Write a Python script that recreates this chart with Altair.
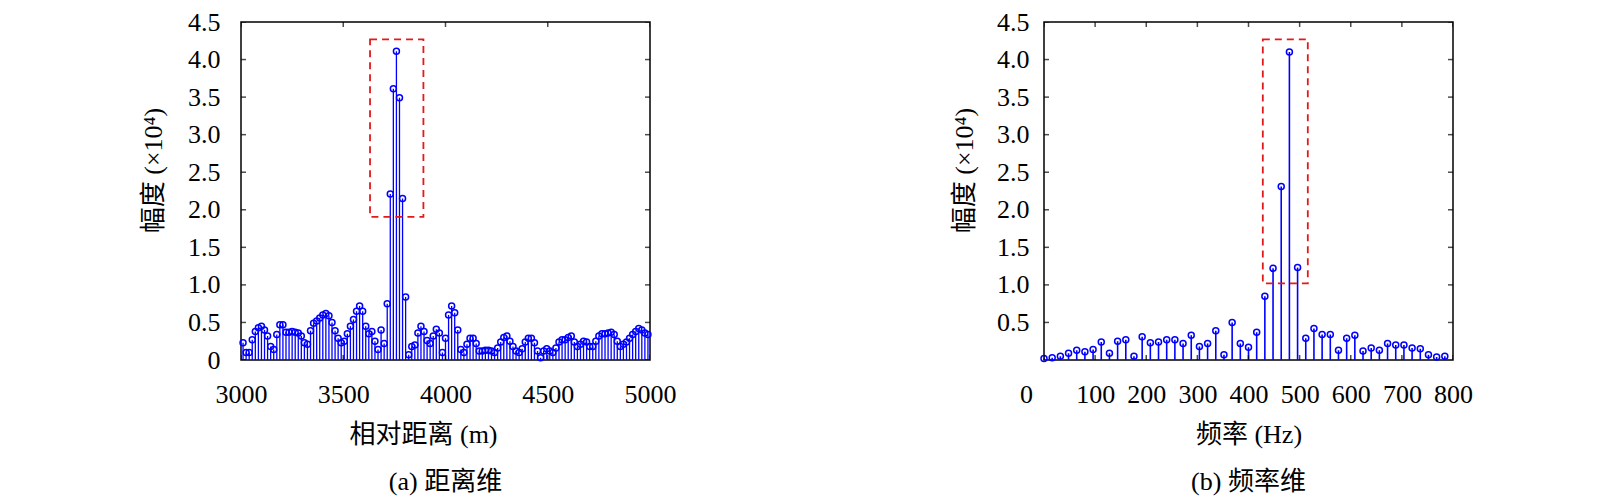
import altair as alt
import pandas as pd

# ---------------- data ----------------
# (a) range dimension: sample grid 3010..4990 m, step 15 m
range_m = list(range(3010, 5000, 15))
range_amp = [
    0.23, 0.10, 0.10, 0.27, 0.38, 0.43, 0.45, 0.40, 0.32, 0.18,
    0.14, 0.34, 0.47, 0.47, 0.37, 0.37, 0.38, 0.37, 0.36, 0.32,
    0.23, 0.21, 0.39, 0.49, 0.52, 0.56, 0.60, 0.62, 0.59, 0.50,
    0.39, 0.29, 0.23, 0.25, 0.35, 0.45, 0.54, 0.65, 0.72, 0.65,
    0.45, 0.35, 0.38, 0.25, 0.14, 0.40, 0.22, 0.75, 2.21, 3.61,
    4.11, 3.49, 2.15, 0.84, 0.07, 0.18, 0.20, 0.36, 0.45, 0.38,
    0.26, 0.22, 0.32, 0.41, 0.36, 0.10, 0.29, 0.60, 0.72, 0.63,
    0.40, 0.14, 0.10, 0.21, 0.29, 0.29, 0.22, 0.12, 0.12, 0.13,
    0.13, 0.12, 0.10, 0.16, 0.24, 0.30, 0.32, 0.25, 0.18, 0.12,
    0.10, 0.15, 0.24, 0.29, 0.29, 0.23, 0.12, 0.03, 0.12, 0.15,
    0.12, 0.10, 0.16, 0.24, 0.27, 0.27, 0.30, 0.32, 0.24, 0.18,
    0.21, 0.25, 0.24, 0.18, 0.18, 0.25, 0.32, 0.35, 0.35, 0.36,
    0.37, 0.34, 0.25, 0.18, 0.21, 0.24, 0.29, 0.34, 0.38, 0.42,
    0.40, 0.36, 0.34,
]

# (b) frequency dimension: 0..784 Hz, step 16 Hz
freq_hz = [0, 16, 32, 48, 64, 80, 96, 112, 128, 144,
           160, 176, 192, 208, 224, 240, 256, 272, 288, 304,
           320, 336, 352, 368, 384, 400, 416, 432, 448, 464,
           480, 496, 512, 528, 544, 560, 576, 592, 608, 624,
           640, 656, 672, 688, 704, 720, 736, 752, 768, 784]
freq_amp = [0.02, 0.03, 0.05, 0.09, 0.13, 0.11, 0.14, 0.24, 0.09, 0.25,
            0.27, 0.05, 0.31, 0.23, 0.24, 0.27, 0.27, 0.22, 0.33, 0.18,
            0.22, 0.39, 0.07, 0.50, 0.22, 0.17, 0.37, 0.85, 1.22, 2.31,
            4.10, 1.23, 0.29, 0.42, 0.34, 0.34, 0.13, 0.29, 0.33, 0.12,
            0.16, 0.13, 0.22, 0.20, 0.20, 0.16, 0.15, 0.07, 0.04, 0.05]

# dashed highlight boxes (data units)
range_box_x = [3631, 3892]
range_box_y = [1.905, 4.27]
freq_box_x = [428, 516]
freq_box_y = [1.02, 4.27]

range_xticks = [3000, 3500, 4000, 4500, 5000]
freq_xticks = [0, 100, 200, 300, 400, 500, 600, 700, 800]
range_yticks = [0, 0.5, 1, 1.5, 2, 2.5, 3, 3.5, 4, 4.5]
freq_yticks = [0.5, 1, 1.5, 2, 2.5, 3, 3.5, 4, 4.5]

y_title = "幅度 (×10⁴)"

FONT = "Liberation Serif, Noto Sans CJK SC"
BLUE = "#0000ff"
RED = "#e31a1c"
FS = 26
H = 338


def panel(xs, ys, xdom, xticks, yticks, box_x, box_y, xtitle, title,
          ytitle_x, xtitle_x, label0_offset, stem_w, ylab_pad):
    df = pd.DataFrame({"x": xs, "amp": ys})
    xaxis = alt.Axis(values=xticks, format="d", title=xtitle, labelOverlap=False,
                     labelFlush=False, labelBound=False,
                     labelOffset={"condition": {"test": "datum.value === 0",
                                                "value": label0_offset},
                                  "value": 0},
                     **({"titleX": xtitle_x} if xtitle_x is not None else {}))
    yaxis = alt.Axis(values=yticks, title=y_title, labelOverlap=False,
                     labelFlush=False, labelBound=False, labelPadding=ylab_pad,
                     labelExpr="datum.value == 0 ? '0' : format(datum.value, '.1f')",
                     titleX=ytitle_x, titleY=148)
    xsc = alt.Scale(domain=xdom, nice=False, zero=False, padding=0)
    ysc = alt.Scale(domain=[0, 4.5], nice=False, zero=False, padding=0)
    base = alt.Chart(df)
    stems = base.mark_rule(color=BLUE, strokeWidth=stem_w).encode(
        x=alt.X("x:Q", scale=xsc, axis=xaxis),
        y=alt.Y("amp:Q", scale=ysc, axis=yaxis),
        y2=alt.datum(0),
    )
    dots = base.mark_point(shape="circle", filled=False, color=BLUE,
                           size=36, strokeWidth=1.5, opacity=1).encode(
        x=alt.X("x:Q", scale=xsc, axis=xaxis),
        y=alt.Y("amp:Q", scale=ysc, axis=yaxis))
    bdf = pd.DataFrame({"x1": [box_x[0]], "x2": [box_x[1]],
                        "y1": [box_y[0]], "y2": [box_y[1]]})
    box = alt.Chart(bdf).mark_rect(fillOpacity=0, stroke=RED, strokeWidth=1.8,
                                   strokeDash=[7, 5]).encode(
        x=alt.X("x1:Q", scale=xsc, axis=xaxis), x2="x2:Q",
        y=alt.Y("y1:Q", scale=ysc, axis=yaxis), y2="y2:Q")
    xt = pd.DataFrame({"t": xticks})
    yt = pd.DataFrame({"t": yticks})
    tick_kw = dict(color="black", thickness=1.5, size=10, clip=True)
    xb = alt.Chart(xt).mark_tick(orient="vertical", **tick_kw).encode(
        x=alt.X("t:Q", scale=xsc, axis=xaxis),
        y=alt.Y(datum=0, scale=ysc, axis=yaxis))
    xtp = alt.Chart(xt).mark_tick(orient="vertical", **tick_kw).encode(
        x=alt.X("t:Q", scale=xsc, axis=xaxis),
        y=alt.Y(datum=4.5, scale=ysc, axis=yaxis))
    yl = alt.Chart(yt).mark_tick(orient="horizontal", **tick_kw).encode(
        y=alt.Y("t:Q", scale=ysc, axis=yaxis),
        x=alt.X(datum=xdom[0], scale=xsc, axis=xaxis))
    yr = alt.Chart(yt).mark_tick(orient="horizontal", **tick_kw).encode(
        y=alt.Y("t:Q", scale=ysc, axis=yaxis),
        x=alt.X(datum=xdom[1], scale=xsc, axis=xaxis))
    return alt.layer(stems, dots, box, xb, xtp, yl, yr).properties(
        width=409, height=H,
        title=alt.TitleParams(title, orient="bottom", frame="group", anchor="middle",
                              font=FONT, fontSize=FS, fontWeight="normal",
                              color="black", offset=22),
    )


left = panel(range_m, range_amp, [3000, 5000], range_xticks, range_yticks,
             range_box_x, range_box_y, "相对距离 (m)", "(a) 距离维",
             -75, 182, 0, 1.3, 21)
right = panel(freq_hz, freq_amp, [0, 800], freq_xticks, freq_yticks,
              freq_box_x, freq_box_y, "频率 (Hz)", "(b) 频率维",
              -67, None, -18, 1.6, 15)

chart = alt.hconcat(left, right, spacing=273).properties(
    padding={"left": 131, "top": 0, "right": 5, "bottom": 0}
).configure_view(
    stroke="black", strokeWidth=1.5
).configure_axis(
    domain=False, ticks=False, tickSize=0, grid=False,
    labelOverlap=False, labelFlush=False,
    labelFont=FONT, labelFontSize=FS, labelColor="black", labelPadding=21,
    titleFont=FONT, titleFontSize=FS, titleFontWeight="normal", titleColor="black",
    titlePadding=14,
)

chart.save("out.html", embed_options={"renderer": "svg", "actions": False})
